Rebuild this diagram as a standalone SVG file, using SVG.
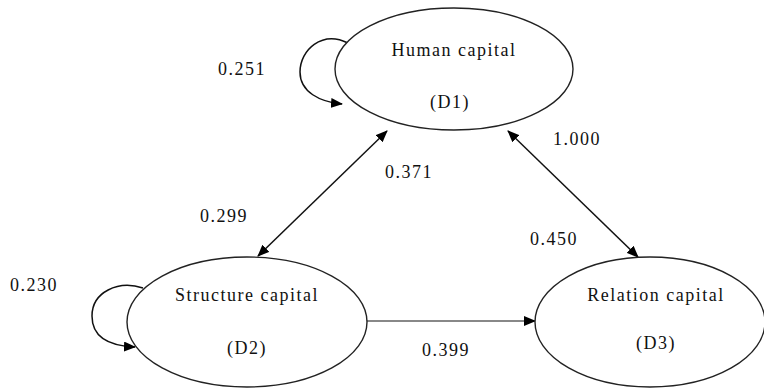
<svg xmlns="http://www.w3.org/2000/svg" width="764" height="392" viewBox="0 0 764 392">
<style>
text{font-family:"Liberation Serif","Times New Roman",serif;font-size:18px;letter-spacing:1.5px;fill:#111}
.n{fill:#fff;stroke:#222;stroke-width:1.4}
.c{fill:none;stroke:#111;stroke-width:1.5}
.g{fill:none;stroke:#888;stroke-width:2}
</style>
<defs>
<marker id="ah" viewBox="0 0 12 10" refX="11" refY="5" markerWidth="12" markerHeight="10" markerUnits="userSpaceOnUse" orient="auto-start-reverse">
<path d="M0,0 L12,5 L0,10 Z" fill="#000"/>
</marker>
</defs>
<rect width="764" height="392" fill="#fff"/>
<g id="edges">
<path class="c" d="M348,43 C322,30 300,50 300,72 C300,92 320,102 342,104" marker-end="url(#ah)"/>
<path class="c" d="M143,288 C118,280 92,292 92,316 C92,338 110,346 135,347" marker-end="url(#ah)"/>
<line class="c" x1="387" y1="131" x2="258" y2="256" marker-start="url(#ah)" marker-end="url(#ah)"/>
<line class="c" x1="508" y1="131" x2="638" y2="257" marker-start="url(#ah)" marker-end="url(#ah)"/>
<line class="g" x1="367" y1="321" x2="535" y2="321" marker-end="url(#ah)"/>
</g>
<g id="D1">
<ellipse class="n" cx="454" cy="69" rx="119" ry="61"/>
<text x="454" y="56" text-anchor="middle">Human capital</text>
<text x="450" y="108" text-anchor="middle">(D1)</text>
</g>
<g id="D2">
<ellipse class="n" cx="247" cy="322" rx="120" ry="65"/>
<text x="247" y="301" text-anchor="middle">Structure capital</text>
<text x="247" y="354" text-anchor="middle">(D2)</text>
</g>
<g id="D3">
<ellipse class="n" cx="650" cy="322" rx="115" ry="65"/>
<text x="656" y="301" text-anchor="middle">Relation capital</text>
<text x="656" y="349" text-anchor="middle">(D3)</text>
</g>
<g id="labels">
<text x="218" y="75">0.251</text>
<text x="553" y="145">1.000</text>
<text x="385" y="178">0.371</text>
<text x="200" y="222">0.299</text>
<text x="530" y="245">0.450</text>
<text x="10" y="291">0.230</text>
<text x="422" y="356">0.399</text>
</g>
</svg>
